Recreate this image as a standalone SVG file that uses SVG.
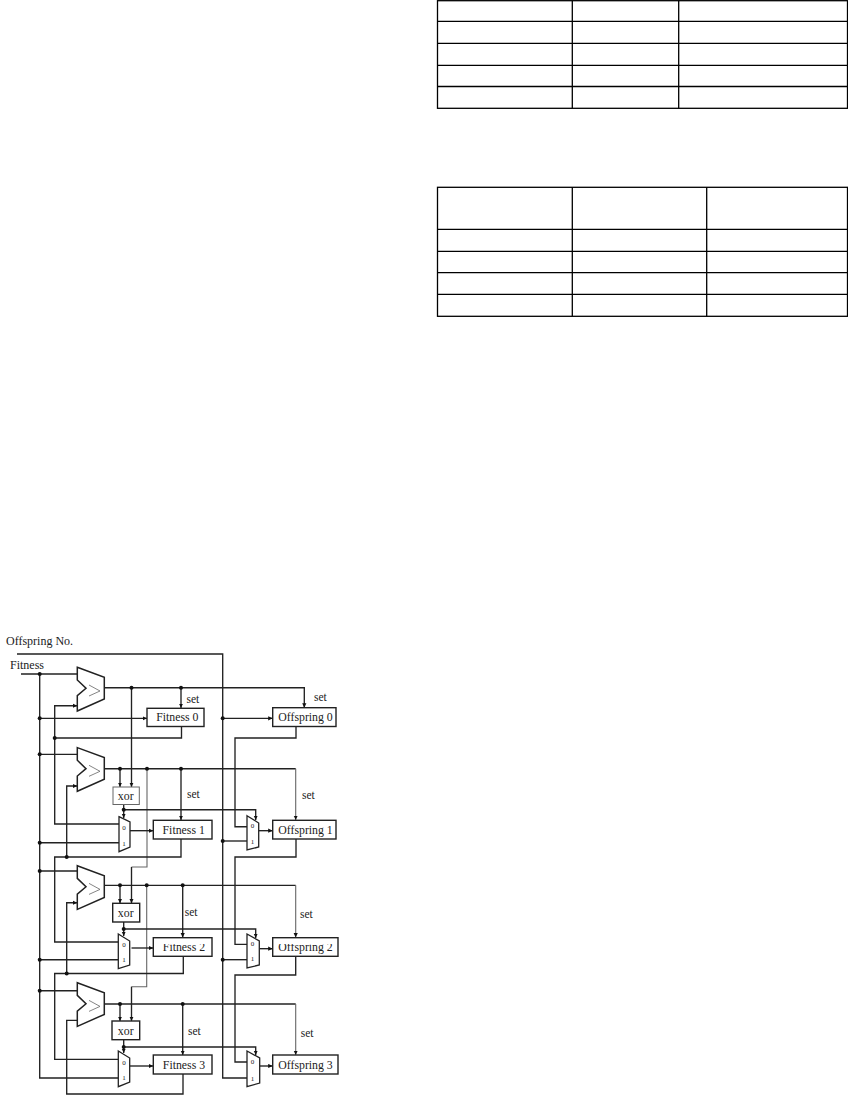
<svg xmlns="http://www.w3.org/2000/svg" width="848" height="1100" viewBox="0 0 848 1100">
<style>
text{font-family:"Liberation Serif","Times New Roman",serif;fill:#222}
.lbl{font-size:12px}
.box{fill:#fff;stroke:#222;stroke-width:1.4}
.thinbox{fill:#fff;stroke:#666;stroke-width:1}
.cmp{fill:#fff;stroke:#222;stroke-width:1.5}
.sym{fill:none;stroke:#666;stroke-width:.8}
.mux{fill:#fff;stroke:#222;stroke-width:1.3}
.mt{font-size:7px;text-anchor:middle}
.nm{font-size:11.8px;text-anchor:middle}
.set{font-size:11.5px}
.w{fill:none;stroke:#222;stroke-width:1.35}
.g{fill:none;stroke:#666;stroke-width:1.1}
.a{marker-end:url(#arr)}
.t{fill:none;stroke:#000;stroke-width:1.3}
circle{fill:#111}
</style>
<defs>
<marker id="arr" markerUnits="userSpaceOnUse" markerWidth="6" markerHeight="6" refX="4.5" refY="2.5" orient="auto"><path d="M0,0.4L4.5,2.5L0,4.6z" fill="#111"/></marker>
<path id="cmpShape" class="cmp" d="M77.3,667.3L104.3,677.3V699L77.3,711V695.7L86,688.3L77.3,680Z"/>
<path id="cmpSym" class="sym" d="M89,685L100,691L89,696"/>
<clipPath id="f2clip"><rect x="150" y="944" width="65" height="14"/></clipPath>
<clipPath id="o2clip"><rect x="270" y="944" width="70" height="14"/></clipPath>
</defs>

<g id="table-1" class="t">
<rect x="437.5" y="0.7" width="410" height="107.6"/>
<path d="M572.3,.7V108.3M678.7,.7V108.3M437.5,21.3H847.5M437.5,43.3H847.5M437.5,65.3H847.5M437.5,86.5H847.5"/>
</g>
<g id="table-2" class="t">
<rect x="437.5" y="187.3" width="410" height="129"/>
<path d="M572.3,187.3V316.3M706.7,187.3V316.3M437.5,229.3H847.5M437.5,251.3H847.5M437.5,272.7H847.5M437.5,294.3H847.5"/>
</g>

<g id="connectors">
<path class="w" d="M17,654H222.7V1078H247"/>
<path class="w" d="M21,674H77.3"/>
<path class="w" d="M39.7,674V1078H118.3"/>
<path class="w a" d="M104,687.7H304.3V707.7"/>
<path class="w a" d="M181,687.7V708"/>
<path class="w a" d="M131.5,687.7V787"/>
<path class="w a" d="M39.7,718.3H147"/>
<path class="w a" d="M222.7,718.3H272.7"/>
<path class="w" d="M181.5,726.5V738H54.7"/>
<path class="w a" d="M119,824H54.7V705.7H77.3"/>
<path class="w" d="M296,726.5V738H235V826.7H247"/>
<path class="w" d="M39.7,754.3H77.3"/>
<path class="w" d="M104,768.7H295.7"/>
<path class="g a" d="M295.7,768.7V820"/>
<path class="w a" d="M120,768.7V787"/>
<path class="w a" d="M181,768.7V820"/>
<path class="g" d="M147,768.7V867H131.5"/>
<path class="w a" d="M131.5,867V903.3"/>
<path class="w a" d="M123.7,804V818"/>
<path class="w a" d="M123.7,809.7H255.7V820"/>
<path class="w a" d="M130,830.7H153.3"/>
<path class="w a" d="M259,830.7H272.7"/>
<path class="w" d="M39.7,842.7H119"/>
<path class="w" d="M222.7,841H247"/>
<path class="w" d="M181,839V857H54.7V942H118.3"/>
<path class="w a" d="M66.7,857V786H77.3"/>
<path class="w" d="M296,839V857H235V944.3H247"/>

<path class="w" d="M39.7,871H77.3"/>
<path class="w" d="M104,885.3H295.7"/>
<path class="g a" d="M295.7,885.3V937.5"/>
<path class="w a" d="M120,885.3V903.3"/>
<path class="w a" d="M182.7,885.3V937.5"/>
<path class="g" d="M146.7,885.3V986.7H131.5"/>
<path class="w a" d="M131.5,986.7V1021"/>
<path class="w a" d="M123.7,922V936"/>
<path class="w a" d="M123.7,929H255.7V938"/>
<path class="w a" d="M131.5,948H153.3"/>
<path class="w a" d="M259.3,948.7H272.7"/>
<path class="w" d="M39.7,959.7H118.3"/>
<path class="w" d="M222.7,959.7H247"/>
<path class="w" d="M183.3,956.3V973.5H54.7V1059.3H118.3"/>
<path class="w a" d="M66.7,973.5V902.7H77.3"/>
<path class="w" d="M295.7,956.3V975H235V1062H247"/>

<path class="w" d="M39.7,990.7H77.3"/>
<path class="w" d="M104,1004H295.7"/>
<path class="g a" d="M295.7,1004V1055"/>
<path class="w a" d="M120,1004V1021"/>
<path class="w a" d="M182.7,1004V1055"/>
<path class="w a" d="M123.7,1039.7V1053"/>
<path class="w a" d="M123.7,1047H255.7V1055"/>
<path class="w a" d="M130,1066H153.3"/>
<path class="w a" d="M259.7,1066H272.7"/>
<path class="w" d="M183,1074V1094H66.7V1020.3H77.3"/>

<g id="junctions">
<circle cx="39.7" cy="674" r="2"/><circle cx="131.5" cy="687.7" r="2"/><circle cx="181" cy="687.7" r="2"/>
<circle cx="39.7" cy="718.3" r="2"/><circle cx="222.7" cy="718.3" r="2"/><circle cx="54.7" cy="738" r="2"/>
<circle cx="39.7" cy="754.3" r="2"/><circle cx="120" cy="768.7" r="2"/><circle cx="147" cy="768.7" r="2"/><circle cx="181" cy="768.7" r="2"/>
<circle cx="123.7" cy="809.7" r="2"/><circle cx="39.7" cy="842.7" r="2"/><circle cx="222.7" cy="841" r="2"/><circle cx="66.7" cy="857" r="2"/>
<circle cx="39.7" cy="871" r="2"/><circle cx="120" cy="885.3" r="2"/><circle cx="146.7" cy="885.3" r="2"/><circle cx="182.7" cy="885.3" r="2"/>
<circle cx="123.7" cy="929" r="2"/><circle cx="39.7" cy="959.7" r="2"/><circle cx="222.7" cy="959.7" r="2"/><circle cx="66.7" cy="973.5" r="2"/>
<circle cx="39.7" cy="990.7" r="2"/><circle cx="120" cy="1004" r="2"/><circle cx="182.7" cy="1004" r="2"/><circle cx="123.7" cy="1047" r="2"/>
</g>
</g>

<g id="labels">
<text class="lbl" x="6" y="645">Offspring No.</text>
<text class="lbl" x="10" y="669">Fitness</text>
<text class="set" x="186.5" y="703">set</text>
<text class="set" x="314" y="701">set</text>
<text class="set" x="187" y="798">set</text>
<text class="set" x="302" y="799">set</text>
<text class="set" x="184.7" y="916">set</text>
<text class="set" x="300" y="918">set</text>
<text class="set" x="188" y="1034.7">set</text>
<text class="set" x="300.7" y="1037">set</text>
</g>

<g id="comparator-0"><use href="#cmpShape"/><use href="#cmpSym"/></g>
<g id="comparator-1" transform="translate(0,80.3)"><use href="#cmpShape"/><use href="#cmpSym"/></g>
<g id="comparator-2" transform="translate(0,198.4)"><use href="#cmpShape"/><use href="#cmpSym"/></g>
<g id="comparator-3" transform="translate(0,315.4)"><use href="#cmpShape"/><use href="#cmpSym"/></g>

<g id="xor-1"><rect class="thinbox" x="113" y="787" width="26.3" height="17.5"/><text class="nm" x="125.7" y="800">xor</text></g>
<g id="xor-2"><rect class="box" x="112.7" y="903.3" width="27" height="18.7"/><text class="nm" x="125.7" y="916.5">xor</text></g>
<g id="xor-3"><rect class="box" x="112" y="1021" width="27.7" height="18.7"/><text class="nm" x="125.7" y="1034.5">xor</text></g>

<g id="fitness-0"><rect class="box" x="147" y="708.3" width="57" height="18.2"/><text class="nm" x="177.3" y="721.3">Fitness 0</text></g>
<g id="fitness-1"><rect class="box" x="153.3" y="820.3" width="58.7" height="18.7"/><text class="nm" x="183.7" y="834">Fitness 1</text></g>
<g id="fitness-2"><rect class="box" x="153.3" y="937.7" width="58.7" height="18.6"/><text class="nm" x="184" y="950.7" clip-path="url(#f2clip)">Fitness 2</text></g>
<g id="fitness-3"><rect class="box" x="153.3" y="1055" width="58.7" height="19"/><text class="nm" x="184" y="1069">Fitness 3</text></g>

<g id="offspring-0"><rect class="box" x="272.7" y="707.7" width="63.3" height="18.8"/><text class="nm" x="305.5" y="721.3">Offspring 0</text></g>
<g id="offspring-1"><rect class="box" x="272.7" y="820.3" width="63.3" height="18.7"/><text class="nm" x="305.5" y="834">Offspring 1</text></g>
<g id="offspring-2"><rect class="box" x="272.7" y="937.7" width="65.3" height="18.6"/><text class="nm" x="305.5" y="950.7" clip-path="url(#o2clip)">Offspring 2</text></g>
<g id="offspring-3"><rect class="box" x="272.7" y="1055" width="65.3" height="19"/><text class="nm" x="305.5" y="1069">Offspring 3</text></g>

<g id="mux-f1"><path class="mux" d="M119,816.7L130,822V847L119,851.7Z"/><text class="mt" x="124" y="830">0</text><text class="mt" x="124" y="846">1</text></g>
<g id="mux-f2"><path class="mux" d="M118.3,934L129.7,941V965L118.3,968.7Z"/><text class="mt" x="124" y="947">0</text><text class="mt" x="124" y="962">1</text></g>
<g id="mux-f3"><path class="mux" d="M118.3,1051L129.7,1058V1082L118.3,1086.7Z"/><text class="mt" x="124" y="1065">0</text><text class="mt" x="124" y="1080">1</text></g>
<g id="mux-o1"><path class="mux" d="M247,815.7L258.7,823V847L247,850Z"/><text class="mt" x="252.5" y="828">0</text><text class="mt" x="252.5" y="844">1</text></g>
<g id="mux-o2"><path class="mux" d="M247,934L259.3,941V965L247,968Z"/><text class="mt" x="252.5" y="946">0</text><text class="mt" x="252.5" y="961">1</text></g>
<g id="mux-o3"><path class="mux" d="M247,1051L259.7,1058V1083L247,1086.7Z"/><text class="mt" x="252.5" y="1064">0</text><text class="mt" x="252.5" y="1081">1</text></g>
</svg>
